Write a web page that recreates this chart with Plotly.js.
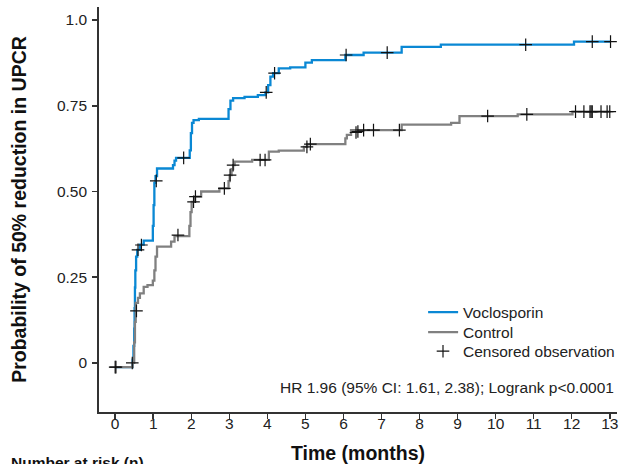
<!DOCTYPE html>
<html>
<head>
<meta charset="utf-8">
<script src="https://cdn.plot.ly/plotly-3.0.1.min.js"></script>
<style>html,body{margin:0;padding:0;background:#fff;}#chart{width:620px;height:464px;}</style>
</head>
<body>
<div id="chart"></div>
<script>
// Kaplan-Meier step values
const vocloTime = [0, 0.46, 0.48, 0.50, 0.51, 0.52, 0.53, 0.55, 0.58, 0.65, 0.75, 0.99, 1.01, 1.03, 1.06, 1.10, 1.52, 1.56, 1.60, 1.96, 1.99, 2.02, 2.06, 2.2, 2.98, 3.03, 3.1, 3.4, 3.75, 3.95, 4.02, 4.08, 4.15, 4.30, 4.6, 5.0, 5.17, 6.05, 6.53, 7.53, 8.56, 12.06, 13.02];
const vocloProb = [-0.012, 0.01, 0.05, 0.10, 0.16, 0.22, 0.27, 0.31, 0.33, 0.345, 0.357, 0.40, 0.46, 0.525, 0.545, 0.567, 0.577, 0.59, 0.598, 0.62, 0.67, 0.70, 0.708, 0.712, 0.74, 0.765, 0.772, 0.776, 0.781, 0.789, 0.81, 0.835, 0.845, 0.859, 0.862, 0.876, 0.883, 0.898, 0.905, 0.922, 0.928, 0.937, 0.937];

const ctrlTime = [0, 0.46, 0.50, 0.52, 0.54, 0.60, 0.65, 0.75, 0.85, 0.99, 1.03, 1.06, 1.10, 1.47, 1.56, 1.95, 1.98, 2.01, 2.10, 2.26, 2.74, 2.98, 3.01, 3.06, 3.10, 3.14, 3.6, 4.04, 4.3, 4.96, 5.05, 6.05, 6.09, 6.2, 7.53, 8.83, 9.05, 10.58, 12.02, 13.02];
const ctrlProb = [-0.012, 0.0, 0.06, 0.12, 0.175, 0.19, 0.203, 0.222, 0.227, 0.24, 0.27, 0.31, 0.339, 0.354, 0.370, 0.40, 0.44, 0.47, 0.485, 0.500, 0.509, 0.53, 0.548, 0.565, 0.577, 0.587, 0.592, 0.616, 0.619, 0.630, 0.638, 0.655, 0.665, 0.679, 0.695, 0.70, 0.72, 0.725, 0.733, 0.733];

// Censored observations
const vocloCensTime = [0, 0.60, 0.69, 1.08, 1.80, 3.97, 4.19, 6.07, 7.15, 10.79, 12.54, 13.02];
const vocloCensProb = [-0.012, 0.33, 0.344, 0.531, 0.598, 0.789, 0.845, 0.898, 0.905, 0.928, 0.937, 0.937];
const ctrlCensTime = [0.02, 0.45, 0.56, 1.65, 2.06, 2.11, 2.87, 3.02, 3.10, 3.81, 3.94, 5.04, 5.13, 6.33, 6.38, 6.53, 6.79, 7.47, 9.79, 10.82, 12.10, 12.32, 12.48, 12.51, 12.54, 12.77, 12.93, 13.0];
const ctrlCensProb = [-0.012, 0.0, 0.152, 0.373, 0.47, 0.485, 0.509, 0.548, 0.577, 0.592, 0.592, 0.630, 0.638, 0.672, 0.675, 0.679, 0.679, 0.679, 0.72, 0.725, 0.733, 0.733, 0.733, 0.733, 0.733, 0.733, 0.733, 0.733];

const xTicks = [0,1,2,3,4,5,6,7,8,9,10,11,12,13];
const yTicks = [0, 0.25, 0.5, 0.75, 1.0];
const yTickText = ["0", "0.25", "0.50", "0.75", "1.0"];

const FONT = "Liberation Sans, Arial, Helvetica, sans-serif";
const BLUE = "#0a88d4";
const GRAY = "#808080";

const censMarker = {symbol: "cross-thin", size: 9, color: "#111", line: {width: 1.2, color: "#111"}};

const traces = [
  {x: vocloTime, y: vocloProb, mode: "lines", line: {shape: "hv", color: BLUE, width: 2.3}, name: "Voclosporin", legend: "legend"},
  {x: ctrlTime, y: ctrlProb, mode: "lines", line: {shape: "hv", color: GRAY, width: 2.3}, name: "Control", legend: "legend2"},
  {x: vocloCensTime, y: vocloCensProb, mode: "markers", marker: censMarker, showlegend: false, name: "Censored observation"},
  {x: ctrlCensTime, y: ctrlCensProb, mode: "markers", marker: censMarker, name: "Censored observation", legend: "legend3"}
];

const legendBase = {x: 0.6257, xanchor: "left", yanchor: "top", bgcolor: "rgba(0,0,0,0)",
                    font: {family: FONT, size: 15.5, color: "#222"}};

const layout = {
  width: 620, height: 464,
  margin: {l: 99, r: 0, t: 7, b: 52},
  paper_bgcolor: "#fff", plot_bgcolor: "#fff",
  font: {family: FONT, size: 15.5, color: "#222"},
  showlegend: true,
  legend: Object.assign({}, legendBase, {y: 0.2874}),
  legend2: Object.assign({}, legendBase, {y: 0.238}),
  legend3: Object.assign({}, legendBase, {y: 0.191}),
  xaxis: {
    range: [-0.425, 13.19], tickvals: xTicks, ticks: "outside", ticklen: 5, tickwidth: 1.5, tickcolor: "#333",
    ticklabelstandoff: -8,
    showline: true, linecolor: "#333", linewidth: 1.8, showgrid: false, zeroline: false,
    tickfont: {family: FONT, size: 15.5, color: "#222"},
    title: {text: "<b>Time (months)</b>", font: {family: FONT, size: 19.5, color: "#111"}, standoff: 18}
  },
  yaxis: {
    range: [-0.143, 1.038], tickvals: yTicks, ticktext: yTickText, ticks: "outside", ticklen: 5, tickwidth: 1.5, tickcolor: "#333",
    ticklabelstandoff: 2,
    showline: true, linecolor: "#333", linewidth: 1.8, showgrid: false, zeroline: false,
    tickfont: {family: FONT, size: 15.5, color: "#222"},
    title: {text: "<b>Probability of 50% reduction in UPCR</b>", font: {family: FONT, size: 19.5, color: "#111"}, standoff: 25}
  },
  annotations: [
    {text: "HR 1.96 (95% CI: 1.61, 2.38); Logrank p<0.0001", xref: "paper", yref: "paper", x: 0.999, y: 0.0617,
     xanchor: "right", yanchor: "middle", showarrow: false, font: {family: FONT, size: 15.5, color: "#222"}},
    {text: "<b>Number at risk (n)</b>", xref: "paper", yref: "paper", x: -0.1747, y: -0.1235,
     xanchor: "left", yanchor: "middle", showarrow: false, font: {family: FONT, size: 15.5, color: "#111"}}
  ]
};

Plotly.newPlot("chart", traces, layout, {displayModeBar: false, staticPlot: true});
</script>
</body>
</html>
